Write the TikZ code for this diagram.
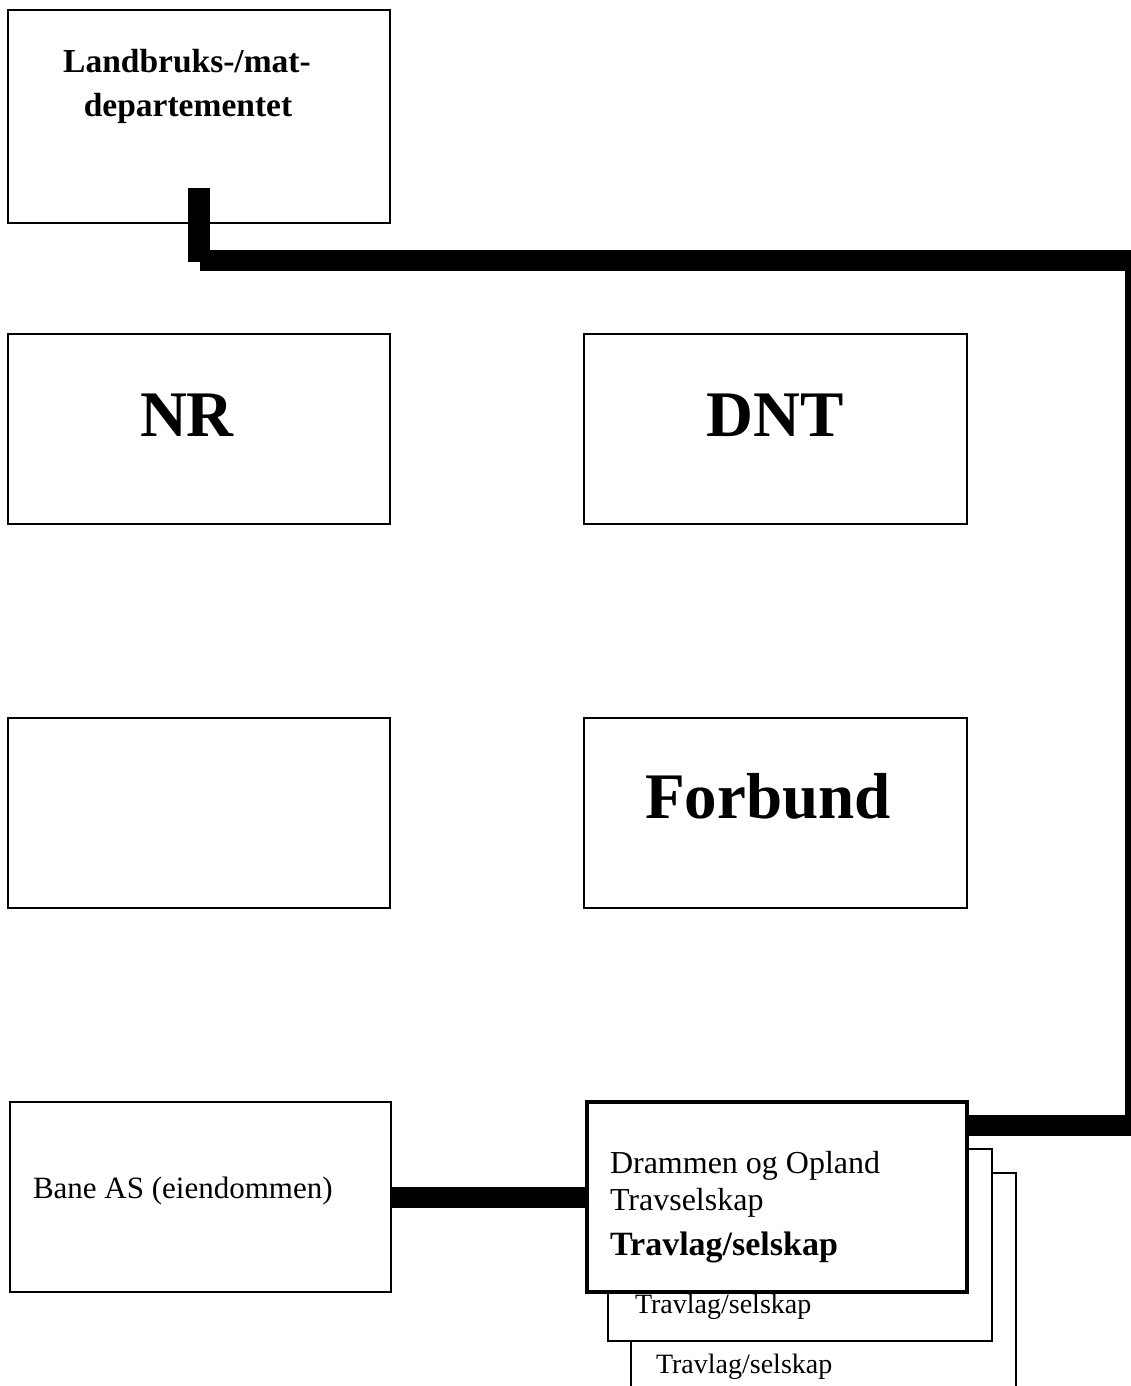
\documentclass[tikz,border=0pt]{standalone}
\usepackage{fontspec}
\setmainfont{Liberation Serif}
\usetikzlibrary{calc}
\begin{document}
\begin{tikzpicture}[x=1pt,y=-1pt,
  box/.style={draw,line width=2pt,rectangle,inner sep=0pt,outer sep=0pt,anchor=north west,fill=white},
  mainbox/.style={box,line width=3.5pt},
  conn/.style={line width=21pt},
  lbl/.style={inner sep=0pt,outer sep=0pt},
  big/.style={lbl,anchor=base,font=\bfseries\fontsize{65}{70}\selectfont},
  head/.style={lbl,anchor=base,font=\bfseries\fontsize{33.5}{40}\selectfont},
  txt/.style={lbl,anchor=base west,font=\fontsize{32}{38}\selectfont},
  btxt/.style={lbl,anchor=base west,font=\bfseries\fontsize{34}{40}\selectfont},
  stxt/.style={lbl,anchor=base west,font=\fontsize{28}{34}\selectfont}]
\path[use as bounding box] (0,0) rectangle (1131,1386);
\clip (0,0) rectangle (1131,1386);
% boxes
\node[box,minimum width=382pt,minimum height=213pt] (ldep) at (8,10) {};
\node[box,minimum width=382pt,minimum height=190pt] (nr) at (8,334) {};
\node[box,minimum width=383pt,minimum height=190pt] (dnt) at (584,334) {};
\node[box,minimum width=382pt,minimum height=190pt] (empty) at (8,718) {};
\node[box,minimum width=383pt,minimum height=190pt] (forbund) at (584,718) {};
\node[box,minimum width=381pt,minimum height=190pt] (bane) at (10,1102) {};
\node[box,minimum width=385pt,minimum height=260pt] (tl3) at (631,1173) {};
\node[box,minimum width=384pt,minimum height=192pt] (tl2) at (608,1149) {};
\node[mainbox,minimum width=380pt,minimum height=190pt] (main) at (587,1102) {};
% labels
\node[head] (l1) at (187,73) {Landbruks-/mat-};
\node[head] (l2) at (188,117) {departementet};
\node[big] (nrt) at (187,436) {NR};
\node[big] (dntt) at (775,436) {DNT};
\node[big] (fbt) at (768,818) {Forbund};
\node[txt,font=\fontsize{31}{36}\selectfont] (banet) at (33,1198) {Bane AS (eiendommen)};
\node[txt] (d1) at (610,1173) {Drammen og Opland};
\node[txt] (d2) at (610,1210) {Travselskap};
\node[btxt] (d3) at (610,1255) {Travlag/selskap};
\node[stxt] (t2) at (635,1313) {Travlag/selskap};
\node[stxt] (t3) at (656,1373) {Travlag/selskap};
% connectors
\coordinate (stubtop) at ($(ldep.south)+(0,-35)$);
\coordinate (stubbot) at ($(ldep.south)+(0,39)$);
\coordinate (bandstart) at ($(ldep.south)+(1,37.5)$);
\coordinate (rtop) at (1135.5,260.5);
\coordinate (rbot) at (1135.5,1125.5);
\coordinate (mainend) at ($(main.north east)+(0,23.5)$);
\draw[line width=22pt] (stubtop) -- (stubbot);
\draw[conn,line join=miter] (bandstart) -- (rtop) -- (rbot) -- (mainend);
\draw[conn] (bane.east) -- (main.west);
\end{tikzpicture}
\end{document}
